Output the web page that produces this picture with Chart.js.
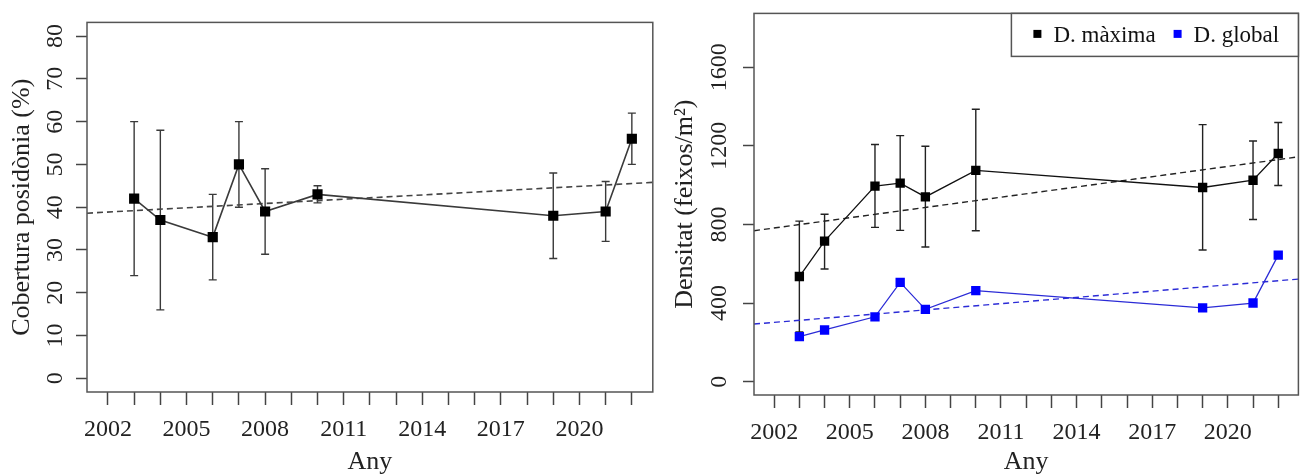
<!DOCTYPE html>
<html lang="ca">
<head>
<meta charset="utf-8">
<title>Cobertura i densitat de posidònia</title>
<script src="https://cdn.jsdelivr.net/npm/chart.js@4.4.1/dist/chart.umd.min.js"></script>
<style>
  html, body { margin: 0; padding: 0; background: #fff; }
  #wrap { position: relative; width: 1305px; height: 474px; overflow: hidden; }
  .panel { position: absolute; top: 0; height: 474px; }
  #left { left: 0; width: 660px; }
  #right { left: 660px; width: 645px; }
</style>
</head>
<body>
<div id="wrap">
  <div class="panel" id="left"><canvas id="coberturaChart" width="660" height="474"></canvas></div>
  <div class="panel" id="right"><canvas id="densitatChart" width="645" height="474"></canvas></div>
</div>
<script>
// ---- data ----
const years = [2003, 2004, 2006, 2007, 2008, 2010, 2019, 2021, 2022];
const xTickLabels = [2002, 2005, 2008, 2011, 2014, 2017, 2020];
const coberturaTicks = [0, 10, 20, 30, 40, 50, 60, 70, 80];
const densitatTicks = [0, 400, 800, 1200, 1600];

// cover (%) with the ends of its error bars
const cobertura     = [42, 37, 33, 50, 39, 43, 38, 39, 56];
const coberturaLow  = [24, 16, 23, 40, 29, 41, 28, 32, 50];
const coberturaHigh = [60, 58, 43, 60, 49, 45, 48, 46, 62];

// shoot density (shoots/m2)
const densMaxima     = [535, 715, 995, 1010, 940, 1075, 988, 1025, 1161];
const densMaximaLow  = [253, 573, 785, 770, 685, 768, 670, 825, 998];
const densMaximaHigh = [817, 852, 1207, 1252, 1198, 1386, 1308, 1225, 1319];
const densGlobal     = [229, 263, 330, 505, 368, 463, 375, 400, 644];

// fitted trend lines, value at each end of the year axis
const trendYears     = [2001.2, 2022.8];
const coberturaTrend = [38.6, 45.8];
const maximaTrend    = [768, 1144];
const globalTrend    = [293, 522];

const SERIF = '"Liberation Serif", "Times New Roman", serif';

function points(xs, ys) {
  return xs.map((x, i) => ({ x: x, y: ys[i] }));
}

// ---- plugins ----
// vertical error bars with caps, drawn under the markers
const errorBarPlugin = {
  id: 'errorBars',
  beforeDatasetsDraw(chart) {
    const { ctx, scales: { x, y } } = chart;
    chart.data.datasets.forEach(ds => {
      if (!ds.errorLow) return;
      ctx.save();
      ctx.strokeStyle = ds.errorColor || '#333';
      ctx.lineWidth = 1.4;
      ds.data.forEach((pt, k) => {
        const px = x.getPixelForValue(pt.x);
        const lo = y.getPixelForValue(ds.errorLow[k]);
        const hi = y.getPixelForValue(ds.errorHigh[k]);
        const cap = 4;
        ctx.beginPath();
        ctx.moveTo(px, lo); ctx.lineTo(px, hi);
        ctx.moveTo(px - cap, lo); ctx.lineTo(px + cap, lo);
        ctx.moveTo(px - cap, hi); ctx.lineTo(px + cap, hi);
        ctx.stroke();
      });
      ctx.restore();
    });
  }
};

// box round the plotting region
const framePlugin = {
  id: 'frame',
  afterDatasetsDraw(chart) {
    const { ctx, chartArea: a } = chart;
    ctx.save();
    ctx.strokeStyle = '#555';
    ctx.lineWidth = 1.5;
    ctx.strokeRect(a.left, a.top, a.right - a.left, a.bottom - a.top);
    ctx.restore();
  }
};

// horizontal legend boxed into the top-right corner
const boxLegendPlugin = {
  id: 'boxLegend',
  afterDraw(chart, args, opts) {
    if (!opts.enabled) return;
    const { ctx, chartArea: a } = chart;
    const items = chart.data.datasets.filter(ds => ds.inLegend);
    const left = a.right - opts.width;
    const top = a.top;
    ctx.save();
    ctx.fillStyle = '#fff';
    ctx.fillRect(left, top, opts.width, opts.height);
    ctx.strokeStyle = '#555';
    ctx.lineWidth = 1.5;
    ctx.strokeRect(left, top, opts.width, opts.height);
    ctx.font = opts.font;
    ctx.textBaseline = 'middle';
    let x = left + 26;
    const cy = top + opts.height / 2;
    items.forEach(ds => {
      ctx.fillStyle = ds.pointBackgroundColor;
      ctx.fillRect(x - 4, cy - 5, 8, 8);
      ctx.fillStyle = '#111';
      ctx.fillText(ds.label, x + 16, cy + 1);
      x += 16 + ctx.measureText(ds.label).width + 22;
    });
    ctx.restore();
  }
};

// ---- shared axis builders ----
function yearAxis(height, labelPad) {
  return {
    type: 'linear',
    min: trendYears[0],
    max: trendYears[1],
    afterFit: s => { s.height = height; },
    border: { display: false },
    grid: { drawOnChartArea: false, drawTicks: true, tickLength: 13, tickColor: '#444', tickWidth: 1.5 },
    ticks: {
      stepSize: 1,
      includeBounds: false,
      autoSkip: false,
      minRotation: 0,
      maxRotation: 0,
      padding: labelPad,
      color: '#222',
      font: { family: SERIF, size: 24 },
      callback: v => (xTickLabels.includes(v) ? String(v) : '')
    },
    title: { display: true, text: 'Any', color: '#222', padding: 0,
             font: { family: SERIF, size: 26, lineHeight: 0.9 } }
  };
}

function valueAxis(opts) {
  return {
    type: 'linear',
    min: opts.min,
    max: opts.max,
    afterFit: s => { s.width = opts.width; },
    afterBuildTicks: s => { s.ticks = opts.ticks.map(v => ({ value: v })); },
    border: { display: false },
    grid: { drawOnChartArea: false, drawTicks: true, tickLength: 11, tickColor: '#444', tickWidth: 1.5 },
    ticks: {
      autoSkip: false,
      minRotation: 90,
      maxRotation: 90,
      crossAlign: 'center',
      padding: opts.labelPad,
      color: '#222',
      font: { family: SERIF, size: 24 },
      callback: v => String(v)
    },
    title: { display: true, text: opts.title, color: '#222',
             padding: { top: opts.titlePad, bottom: 0 },
             font: { family: SERIF, size: 26, lineHeight: 1 } }
  };
}

const baseOptions = {
  responsive: false,
  animation: false,
  devicePixelRatio: 1,
  events: []
};

// ---- left panel: cover ----
new Chart(document.getElementById('coberturaChart'), {
  type: 'line',
  data: {
    datasets: [
      {
        label: 'Cobertura',
        data: points(years, cobertura),
        errorLow: coberturaLow,
        errorHigh: coberturaHigh,
        errorColor: '#3a3a3a',
        borderColor: '#3a3a3a',
        borderWidth: 1.6,
        pointStyle: 'rect',
        pointRadius: 7.2,
        pointBorderWidth: 0,
        pointBackgroundColor: '#000'
      },
      {
        label: 'Tendència',
        data: points(trendYears, coberturaTrend),
        borderColor: '#444',
        borderWidth: 1.6,
        borderDash: [6, 4],
        pointRadius: 0
      }
    ]
  },
  options: {
    ...baseOptions,
    layout: { padding: { left: 0, top: 12, right: 5, bottom: 0 } },
    plugins: { legend: { display: false }, tooltip: { enabled: false }, boxLegend: { enabled: false } },
    scales: {
      x: yearAxis(82, 10),
      y: valueAxis({ min: -3.2, max: 83.2, ticks: coberturaTicks, width: 87, labelPad: 8,
                     title: 'Cobertura posidònia (%)', titlePad: 9 })
    }
  },
  plugins: [errorBarPlugin, framePlugin, boxLegendPlugin]
});

// ---- right panel: density ----
new Chart(document.getElementById('densitatChart'), {
  type: 'line',
  data: {
    datasets: [
      {
        label: 'D. màxima',
        inLegend: true,
        data: points(years, densMaxima),
        errorLow: densMaximaLow,
        errorHigh: densMaximaHigh,
        errorColor: '#222',
        borderColor: '#111',
        borderWidth: 1.3,
        pointStyle: 'rect',
        pointRadius: 6.6,
        pointBorderWidth: 0,
        pointBackgroundColor: '#000'
      },
      {
        label: 'D. global',
        inLegend: true,
        data: points(years, densGlobal),
        borderColor: '#2b2bd6',
        borderWidth: 1.3,
        pointStyle: 'rect',
        pointRadius: 6.6,
        pointBorderWidth: 0,
        pointBackgroundColor: '#0000ff'
      },
      {
        label: 'Tendència màxima',
        data: points(trendYears, maximaTrend),
        borderColor: '#222',
        borderWidth: 1.4,
        borderDash: [6, 4],
        pointRadius: 0
      },
      {
        label: 'Tendència global',
        data: points(trendYears, globalTrend),
        borderColor: '#2b2bd6',
        borderWidth: 1.4,
        borderDash: [6, 4],
        pointRadius: 0
      }
    ]
  },
  options: {
    ...baseOptions,
    layout: { padding: { left: 0, top: 13, right: 1, bottom: 0 } },
    plugins: {
      legend: { display: false },
      tooltip: { enabled: false },
      boxLegend: { enabled: true, width: 287, height: 43, font: '23px ' + SERIF }
    },
    scales: {
      x: yearAxis(79, 10),
      y: valueAxis({ min: -68, max: 1874, ticks: densitatTicks, width: 94, labelPad: -1,
                     title: 'Densitat (feixos/m²)', titlePad: 12 })
    }
  },
  plugins: [errorBarPlugin, framePlugin, boxLegendPlugin]
});
</script>
</body>
</html>
